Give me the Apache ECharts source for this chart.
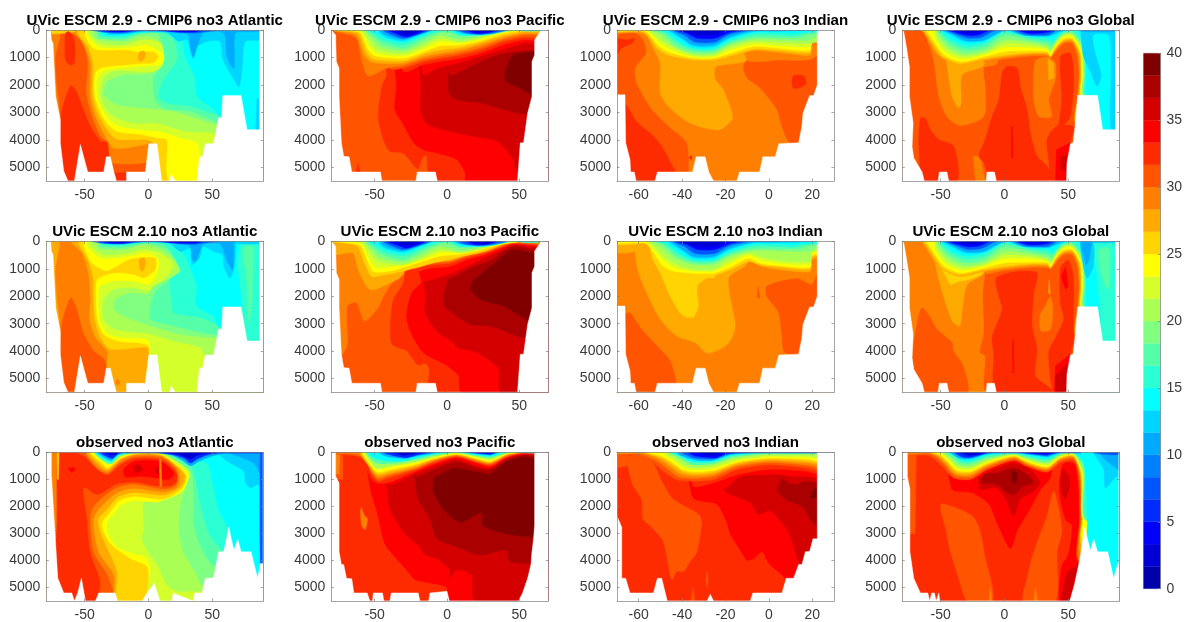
<!DOCTYPE html>
<html><head><meta charset="utf-8">
<script src="https://cdn.jsdelivr.net/npm/echarts@6/dist/echarts.min.js"></script>
<style>html,body{margin:0;padding:0;background:#fff}#c{width:1185px;height:622px}</style></head>
<body><div id="c"></div>
<script>
// jet(24): colour of each NO3 band, bottom to top of the colour bar (0..40, 24 equal bands)
const bandColors=['#0000AA','#0000D4','#0000FF','#002BFF','#0055FF','#0080FF','#00AAFF','#00D4FF','#00FFFF','#2BFFD4','#55FFAA','#80FF80','#AAFF55','#D4FF2B','#FFFF00','#FFD400','#FFAA00','#FF8000','#FF5500','#FF2B00','#FF0000','#D40000','#AA0000','#800000'];
const colorbarTicks=[0,5,10,15,20,25,30,35,40];
const depthTicks=[0,1000,2000,3000,4000,5000];
const latTicks=[-50,0,50];
const indianTicks=[-60,-40,-20,0,20];
// Each layer: [band, [lat,depth,lat,depth,...], closure] closure 1 = up to surface, 2 = down to bottom
const atlFloor=[-80,0,-76.5,0,-76,360,-74.7,480,-74,1150,-72.6,2420,-69,3270,-69,4110,-66.3,5140,-63,5500,-58,5500,-53.3,4170,-47.5,5170,-35,5170,-33,4620,-29.8,4620,-27,5170,-25,5500,-17.2,5500,-17.2,5170,-2.3,5170,0.3,4140,6.8,4140,10.4,5500,16.7,5500,17.8,5260,21,5500,38,5500,40,4620,42.3,4620,44.6,4140,51,4140,55,3200,57.4,3200,58.2,2390,72.6,2390,77.3,3630,87.2,3630,87.2,0,90,0];
const atlObsFloor=[-80,0,-76,0,-76,800,-72.8,3260,-71,4650,-66.3,5200,-60,5200,-58,5500,-55.4,5200,-52.5,4650,-49.3,5500,-41.5,5500,-39,5200,-26,5200,-24,5500,-5,5500,-1,5200,4.7,4840,9,5500,18.5,5500,19.3,5200,35,5500,36.3,5200,42,5200,44.6,4650,51,4650,55,3680,59,3680,63,2770,67,3620,70,3200,72.6,3680,80.4,3680,85.6,4650,87.7,4110,89.8,4110,89.8,0,90,0];
const pacFloor=[-80,0,-77,180,-76.5,1150,-74.6,1390,-74.6,2420,-73,4110,-71.4,4600,-67.7,4620,-65.8,5170,-46,5170,-45,5500,-21.5,5500,-20.6,5170,-8,5170,-6.7,5500,48.7,5500,50.6,4110,52.9,4110,55.7,3030,58.7,2420,58.7,1150,60.5,910,60.5,360,65,0,70,0];
const pacObsFloor=[-80,0,-77,0,-77,890,-74.6,1130,-74.6,3680,-73,4150,-71.4,4150,-69.5,4660,-65.8,4680,-64.4,5200,-55.2,5200,-53.3,5500,-51.5,5500,-51,5200,-44.6,5200,-43.6,5500,-39.5,5500,-38.6,5200,-19.9,5200,-18.7,5500,-12.7,5500,-11.8,5200,0,5140,1.6,5500,49.4,5500,52.2,5200,55.7,4660,58,4150,58.7,3680,59.8,3200,60.5,2710,60.5,40,64,0,70,0];
const indFloor=[-70,2360,-66.3,2360,-66,4110,-64,4720,-63.7,5170,-62,5170,-61.2,5500,-52.5,5500,-51.4,5170,-35.2,5170,-33.5,4620,-29.4,4620,-27.7,5170,-25.5,5500,-14.8,5500,-13.5,5170,-4.3,5170,-2.8,4620,2.9,4620,4.6,4140,13.7,4110,15.2,3510,15.7,3030,18.8,2390,20.6,2390,22.3,2000,22.3,0,30,0];
const indObsFloor=[-70,2350,-67.8,2770,-67.8,4660,-66,4660,-64,5200,-53.2,5200,-51.4,4660,-49.4,4660,-46.8,5500,-28.5,5500,-27,5250,-25.5,5500,-8.6,5500,-7.4,5200,6,5200,8,4660,11.4,4660,13.7,4150,15.2,4150,16.8,3680,18.8,3660,20.3,3200,22.3,3200,22.3,0,30,0];
const gloFloor=[-80,0,-79,20,-76.8,600,-74.4,1330,-74.4,2420,-71.5,3390,-72.3,4240,-71,4660,-64.5,5170,-62.7,5500,-52,5500,-51,5170,-45,5170,-43.6,5500,-14.4,5500,-13.6,5170,-7.8,5170,-6.3,5500,48.6,5500,49,4840,51.7,4140,53.8,4110,55.6,3390,57.4,2380,73,2380,77,3630,87,3630,87,0,90,0];
const gloObsFloor=[-80,0,-76,0,-76,890,-74,1370,-74,3680,-71,4660,-65.8,5200,-60,5200,-58.5,5500,-57,5200,-54.8,5200,-53.5,5500,-51.4,5200,-50.6,5500,51.2,5500,54.8,4900,58.2,4150,60,3680,62.7,2770,67.4,3620,70,3200,73,3680,81,3680,85.6,4660,88.8,4110,89.6,4110,89.6,0,90,0];

const atlDark=[[5,[-44,0,-35,80,-20,100,-5,20,10,30,25,100,35,110,45,60,55,0]],[3,[-38,0,-30,60,-20,70,-10,0,5,0,25,70,38,60,42,0]],[2,[-32,0,-25,40,-15,0,18,0,30,40,36,0]]];
const atl29=[
[19,[-80,0,90,0,90,5500,-80,5500]],
[18,[-80,0,-69,0,-73,1000,-72,2000,-70,3200,-80,3200]],
[18,[-62,0,-53,350,-47.5,1100,-48.5,2300,-44,3150,-37.5,3870,-32,4100,-31,4600,-28.5,4850,-1,4800,0.5,4250,0.5,5500,90,5500,90,0]],
[16,[-77,0,-55,0,-60,100,-75,150]],
[17,[-57,100,-50.5,550,-45.5,1200,-45.5,2400,-41.5,3150,-35,3750,-27,4300,-1,4150,0.5,4000,0.5,5500,90,5500,90,0,-57,0]],
[16,[-54.5,180,-47.5,600,-43.5,1200,-43.5,2400,-40,3000,-33.5,3550,-26,3950,-11.5,4000,-1,4000,7,4250,9,5500,90,5500,90,0,-54.5,0]],
[15,[-49,270,-42,700,-17,720,-8,800,4,780,8,970,4,1200,-4,1230,-14,1270,-37.5,1400,-42,1630,-42,2400,-38,2950,-32.5,3400,-24.5,3700,-6,3800,1.5,3870,7,3930,14.5,4000,17,5500,90,5500,90,0,-49,0]],
[14,[-47.5,180,-39,600,-17,630,-1,550,12,900,9.5,1270,-4,1330,-35,1500,-40,1800,-40,2400,-36,2900,-30,3300,-19,3550,-1,3650,9.5,3700,25,3930,38,4100,41,4600,51,5500,90,5500,90,0,-47.5,0]],
[13,[-45.5,180,-37.5,480,-19,550,-6,360,7,420,16,900,8,1500,-27,1500,-35,1750,-37.5,2400,-33.5,2850,-27,3150,-11.5,3400,7,3400,30,3700,51,3750,54,4000,90,4000,90,0,-45.5,0]],
[12,[-41.5,300,-35,360,-17,420,-6,240,5.5,300,20,970,5.5,1500,-4,1630,-19,1630,-32,1880,-35,2350,-24.5,2720,-1,2850,20,2970,41,3270,54,3450,90,3450,90,0,-41.5,0]],
[11,[-39,270,-19,340,-8,160,7,120,12,730,12,1210,4,1750,5.5,2550,12,2850,33,2970,54,3330,90,3330,90,0,-39,0]],
[10,[-37.5,220,-19,270,-8,120,12,120,20,360,22.5,1090,12,1800,8,2420,14.5,2660,33,2780,55,3090,90,3090,90,0,-37.5,0]],
[9,[-35,180,-19,190,-6,90,24,120,29,970,37,1750,38.5,2420,51,2880,56,3150,60,3150,60,5500,90,5500,90,0,-35,0]],
[8,[-32,160,-19,150,-6,60,14.5,90,24,420,30,340,35.5,1030,38.5,600,46,420,56,420,58.5,1090,67,1800,71,2080,73.5,1330,76,420,90,360,90,0,-32,0]],
[8,[85,2500,90,2500,90,3630,84,3630]],
[7,[-30,120,-19,120,-4,40,30,120,32,220,33,730,35,1000,38.5,550,43,110,59,110,61.5,970,67,1390,68,120,77,70,90,60,90,0,-30,0]],
...atlDark,
[20,[-65,120,-62,60,-58,360,-58,1210,-61,1270,-65,1090]],
[20,[-61,2030,-67.5,2900,-69,4100,-66,5500,-33,5500,-32,4100,-37.5,4050,-45.5,3500,-52,2780,-57,2180]],
[20,[-28,5200,-17,5200,-17,5500,-25,5500]],
[17,[-7,800,-3,780,-3,1000,-6,1150,-8,1050]]];
const atl210=[
[18,[-80,0,90,0,90,5500,-80,5500]],
[17,[-80,0,-70,0,-73,1000,-72,2000,-70,3200,-80,3200]],
[17,[-60,0,-52,430,-47,1150,-45.5,2000,-46,2840,-41.5,3500,-32,4050,-33,5500,90,5500,90,0]],
[19,[-61,2060,-67.5,2960,-69,4050,-66,5500,-32,5500,-33,4530,-35,4290,-43,3990,-51,3330,-57,2360]],
[16,[-54.5,130,-47.5,670,-43.5,1280,-43,2000,-42,2840,-37.5,3500,-30,3930,-1,3870,0.5,4150,0.5,5500,90,5500,90,0,-54.5,0]],
[15,[-50,250,-44,800,-32.5,1070,-16,670,-6,580,5.5,610,5.5,1030,-3.5,1340,-11.5,1220,-27,1160,-40,1400,-41,2000,-40,2840,-35,3390,-24.5,3630,0.5,3830,0.5,5500,90,5500,90,0,-50,0]],
[14,[-47.5,190,-37.5,610,-16,550,-1,410,8,670,7,1160,0.3,1580,-11.5,1460,-27,1460,-37.5,1640,-39,2240,-37.5,2960,-31,3390,-19.5,3510,0.3,3630,0.3,5500,90,5500,90,0,-47.5,0]],
[13,[-45.5,130,-35,490,-16.5,430,-3.5,290,9.5,430,20,860,12,1400,0.3,1820,-11.5,1700,-27,1760,-35,2120,-35,2840,-26,3210,-1,3350,20,3630,41,3870,44.5,4170,90,4170,90,0,-45.5,0]],
[12,[-39,250,-19.5,310,-3.5,130,9.5,290,27.5,1040,14.5,1400,4,1640,-1,1940,-14,1880,-26,2120,-27,2480,-19.5,2720,1.5,3080,25,3390,51,3510,90,3510,90,0,-39,0]],
[11,[-37.5,190,-19.5,220,-3.5,70,12,220,27.5,920,20,1280,7,1760,3,2120,1.5,2840,14.5,3020,51,3390,90,3390,90,0,-37.5,0]],
[10,[-35,130,-19.5,145,-3.5,50,13,130,22.5,800,25,1100,17,1400,18.5,2240,20,2600,41,2780,55,3080,60,3080,60,5500,90,5500,90,0,-35,0]],
[9,[-32,110,-19.5,100,-3.5,25,14.5,70,27.5,430,33,980,38,1640,38,2360,51,2720,56,3150,72,3150,72,1880,69.5,800,69.5,0,-32,0]],
[11,[74,250,82,200,82,900,81,2500,78,3000,77,1500]],
[8,[-31,70,-19.5,70,-3.5,10,16,50,25,370,33,250,34,850,40,600,43,190,51,370,58,490,59,910,64,1340,67.5,850,68.5,130,68.5,0,-31,0]],
[8,[68,0,87,0,87,100,70,100]],
[7,[-27,40,-10,30,0,10,29,70,33,220,34,650,37,750,43,100,56,100,62,750,66,1030,67,100,67,0,-27,0]],
...atlDark,
[17,[-7,650,-3,620,-3,950,-5,1100,-7,950]],
[18,[-26,5150,-24,5000,-22,5150,-24,5250]]];
const atlObs=[
[20,[-80,0,90,0,90,5500,-80,5500]],
[18,[-80,0,-72,0,-72,800,-73,3300,-80,3300]],
[16,[-71.5,0,-70,0,-70.5,1000,-71.5,1000]],
[19,[-57,0,-50.5,130,-40,630,-32,830,-22,460,-11,220,10,260,20,640,24,1000,17,1260,5,1250,-10,1120,-25,1190,-40,1580,-50.5,1310,-48,2470,-45.5,3680,-37.5,4780,-37.5,5500,90,5500,90,0]],
[18,[-48.5,130,-39,640,-32,770,-22,380,-11.5,160,9.5,180,21,580,23,950,21,1250,12,1370,-11.5,1190,-24.5,1310,-37.5,1740,-44,2100,-45.5,2470,-43,3680,-32,4540,-27,5200,-25.5,5500,90,5500,90,0,-48.5,0]],
[17,[-47.5,100,-37.5,580,-32,700,-22,300,-11.5,100,9.5,130,22.5,580,25,950,22.5,1310,12,1470,-11.5,1350,-24.5,1500,-35,1920,-41.5,2290,-43,2590,-39,3680,-27,4540,-24.5,5500,90,5500,90,0,-47.5,0]],
[16,[-46,70,-36,520,-32,640,-22,250,-11.5,70,9.5,100,24,580,29,890,25,1310,12,1590,-11.5,1500,-24.5,1680,-32,2100,-39,2470,-37.5,2950,-32,3560,-24.5,4410,-23,5500,90,5500,90,0,-46,0]],
[15,[-45,40,-35,460,-32,580,-22,220,-11.5,60,9.5,70,25,580,30,890,26,1370,12,1740,-11.5,1640,-23,1800,-30,2230,-36,2590,-35,2950,-28.5,3440,-14,3930,-1,4230,0.3,4780,0.3,5500,90,5500,90,0,-45,0]],
[14,[-43.5,10,-33.5,400,-32,460,-22,180,-11.5,40,9.5,50,26,580,31.5,890,27.5,1370,14.5,1860,-11.5,1800,-22,1980,-26,2230,-32,2590,-31,3080,-24.5,3500,-11.5,3750,-2.5,3870,1.5,4290,1.5,5500,90,5500,90,0,-43.5,0]],
[13,[-32,340,-22,130,-11.5,25,9.5,40,27.5,520,33,830,30,1370,7,1860,-3.5,1860,-3.5,2830,-5,3200,-1,3620,7,4170,14.5,4900,22.5,5140,34,5140,90,5140,90,0,-32,0]],
[12,[-22,85,-11.5,10,12,30,29,460,33,770,26,1740,24,2830,27.5,3680,38,4540,42,4900,90,4900,90,0,-22,0]],
[11,[12,10,33,700,35.5,1370,35.5,2590,40.7,3440,51,4170,90,4170,90,0,10,0]],
[10,[22.5,160,34,520,38,1250,41,1980,47,2950,54,3440,60,3680,90,3680,90,0,18,0]],
[9,[34,300,46,400,51,1250,55,2100,61.5,2710,66,3680,66,5500,90,5500,90,0,30,0]],
[8,[54,40,64,400,74.7,700,76,1130,80,1310,86.4,1190,87,1860,88,3000,90,3000,90,0,50,0]],
[7,[64,40,74.7,220,82.5,400,87.7,890,88,4110,90,4110,90,0,64,0]],
[5,[88,0,90,0,90,4110,87.7,4110,87.5,1500,87.5,300]],
[11,[-42,0,-35,330,-29,430,-22,120,-12,0]],
[9,[-41,0,-34,280,-29,350,-23,100,-14,0]],
[7,[-40,0,-33,230,-29,300,-24,90,-16,0]],
[4,[-38,0,-32,170,-28,220,-24,60,-19,0]],
[2,[-35,0,-30,100,-26,100,-23,0]],
[7,[5,0,18,100,26,280,33,500,40,320,50,140,60,0]],
[4,[8,0,20,100,28,220,33,400,38,250,46,100,55,0]],
[2,[12,0,25,100,33,250,38,120,48,0]],
[3,[-18,0,90,0,90,30,-18,30]],
[21,[-63,600,-59,550,-57,650,-60,760]],
[21,[-19.5,640,-11.5,340,9.5,340,20,770,16,1010,7,950,-6,890,-18,910]],
[22,[-12,500,-7,450,-4,650,-10,800]],
[22,[5,560,9,560,8,800,6,750]],
[18,[8.5,250,10,250,10.5,1270,9,1270]]];

const pacCold=[
[13,[-58,60,-53,420,-47.5,730,-30,850,-16.4,580,-5,300,9,420,23,280,34.4,100,46,25],1],
[12,[-57,30,-52,300,-46.4,600,-30,750,-16.4,460,-5,180,9,340,23,220,33,60,44,10],1],
[11,[-56,20,-51,240,-45,480,-30,670,-16.4,340,-7,120,0,60,9,240,23,160,32,25],1],
[10,[-55,10,-50,180,-44,390,-30,540,-16.4,240,-7,70,0,25,9,160,23,100,30,25],1],
[9,[-54,10,-48.7,120,-43,300,-30,440,-16.4,170,-9.5,25,0,0,4.4,25,9,170,23,190,32,140,40,0],1],
[9,[47,0,53,40,62,40,66,0]],
[8,[-47,50,-42,260,-30,390,-16.4,130,-10,0]],
[7,[-46,40,-41,210,-30,340,-16.4,100,-10.6,0]],
[7,[5,0,12,130,22,160,32,130,42,0]],
[5,[-44,0,-38,170,-30,300,-17,110,-12,0]],[5,[8,0,15,130,23,160,32,100,40,0]],
[3,[-41,0,-35,130,-28,250,-20,120,-15,0]],[3,[12,0,20,130,28,110,35,0]],
[2,[-37,0,-30,170,-23,130,-18,0]],[2,[16,0,23,90,29,70,32,0]]];
const pac29=[
[19,[-80,0,70,0,70,5500,-80,5500]],
[20,[-41.8,1630,-45,2060,-47.5,3150,-44,3990,-39.5,4420,-30,4500,-21.5,5020,-20,5050,-16.4,4600,-14,4600,-13,5170,-6.7,5500,70,5500,70,0,-41.8,0]],
[21,[-35,2060,-36,2900,-30,3450,-23,4110,-16.4,4360,-7,4480,6.7,4720,12.5,5200,13,5500,70,5500,70,0,-35,0]],
[22,[-18,2000,-18,3030,-13,3450,2,3690,18,3870,34.4,4050,46,4720,48.7,5200,70,5200,70,0,-18,0]],
[23,[1,1810,1.4,2300,6.7,2540,23,2660,39,2900,55,3090,70,3090,70,0,1,0]],
[24,[46,910,40,1570,41,1880,50.6,2120,58.7,2360,70,2360,70,900]],
[22,[2,1630,18,1270,34.4,910,45,790,58.7,730,70,730],1],
[21,[-16.4,1630,-7,1390,6.7,1210,20.5,990,39,700,53,480,70,480],1],
[20,[-30,1510,-16.4,1270,-5,1150,9,1030,23,850,39,540,53,360,70,390],1],
[19,[-39.5,1390,-30,1390,-16.4,1150,-5,1030,9,910,23,730,39,420,53,270,70,300],1],
[18,[-80,30,-72,120,-62.6,300,-59,1090,-54.5,1670,-41.8,1390,-30,1290,-16.4,1060,-5,940,9,820,23,640,39,340,53,180,70,180],1],
[17,[-80,10,-72,60,-62.6,180,-57.5,900,-52,1170,-41.8,1230,-30,1210,-16.4,970,-5,850,9,730,23,540,39,270,53,120,70,120],1],
[16,[-80,5,-72,40,-61.4,120,-56,790,-51,1060,-30,1130,-16.4,880,-5,730,9,640,23,460,39,200,53,60,63,60],1],
[15,[-76,20,-60,90,-55,670,-50,940,-30,1030,-16.4,790,-5,580,9,540,23,390,39,120,50,25],1],
[14,[-65,20,-59,85,-54.5,540,-48.7,850,-30,940,-16.4,700,-5,420,9,480,23,340,36.7,120,48,25],1],
...pacCold,
[20,[-63,5170,-61.5,4850,-60,5170]]];
const pac210=[
[19,[-80,0,70,0,70,5500,-80,5500]],
[18,[-80,0,-80,4400,-73,4170,-69,3750,-69,2360,-62.6,2240,-57,2900,-47.6,2420,-44,2000,-37,1460,-25.6,1040,-25.6,0]],
[20,[-37,2120,-39,2960,-38,3750,-28,3990,-20,4510,-15.2,4430,-12.2,4650,-11.8,5500,70,5500,70,0,-25,0,-30,1500]],
[21,[-17.5,1460,-24.5,1880,-28,2720,-25,3330,-16.4,4050,0,4530,7.9,4900,10,5500,70,5500,70,0,-17.5,0]],
[22,[-14.8,2120,-15.2,2600,-7,3270,4.4,3690,6.7,3870,20.5,4050,35.6,4650,37,5500,70,5500,70,0,-14.8,0]],
[23,[0.9,1400,-2,1880,-2,2360,6.7,2720,16,3030,30,3090,48.3,3450,53.6,3510,70,3510,70,0,0.9,0]],
[24,[18,1400,16.4,1760,23,2120,39,2360,57.5,2900,70,2900,70,0,18,0]],
[23,[16,1400,30,900,41,430,46,290,53,340,70,490],1],
[22,[0.9,1340,16,970,30,670,39,340,46,170,53,220,70,370],1],
[21,[-17.5,1420,0,1220,16,850,27.5,550,39,290,46,130,70,250],1],
[20,[-29,1160,-11.8,980,2,920,13.6,670,27.5,460,39,220,46,100,70,190],1],
[19,[-25.6,980,-11.8,860,2,800,13.6,590,27.5,410,39,170,46,70,70,130],1],
[17,[-80,490,-65,430,-61.4,1040,-53.3,1760,-41.8,1580,-33,1350,-25.6,900,-11.8,780,2,720,13.6,520,27.5,360,39,130,46,40,63,80],1],
[16,[-80,30,-72,60,-62,180,-57,800,-52,1280,-44,1230,-30,1080,-17,900,-5,730,9,560,23,400,39,100,50,20],1],
[15,[-76,20,-60,150,-55,700,-51,1100,-40,1090,-30,950,-16,720,-5,540,9,470,23,320,39,70,50,15],1],
[14,[-65,20,-59,100,-54.5,560,-48.7,950,-30,850,-16,650,-5,420,9,400,23,290,37,100,48,20],1],
...pacCold];
const pacObs=[
[20,[-80,0,70,0,70,5500,-80,5500]],
[19,[-77,100,-72,80,-72,1000,-77,1000]],
[18,[-77,50,-74,50,-74.6,800,-77,800]],
[18,[-59.4,2040,-57,2350,-55,2470,-56.6,2860,-59,2710,-59.8,2350]],
[21,[-53.3,1250,-48.3,2230,-43,3380,-35,3930,-25,4540,-22,4720,-5,4900,0,5020,0,5500,70,5500,70,0,-53,0]],
[20,[23,5500,26,5200,29,5500]],
[22,[-41,1560,-39.5,2100,-30,2950,-20,3440,-15,3800,-7,3930,2,4350,2,4660,6.7,4350,17,4540,19.4,5500,70,5500,70,0,-41,0]],
[23,[-21.5,1250,-20,1740,-11.8,2470,-7,3200,6.7,3500,23,3800,41,3620,43.6,4050,58.7,4110,70,4110,70,0,-21.5,0]],
[24,[-9,890,-9.5,1430,-2.5,2100,9,2590,24,2230,24.7,2710,41.3,3020,60.5,3140,70,3140,70,0,-9,0]],
[23,[-9,890,4.4,580,20.5,710,29.8,770,41.3,340,53,160,70,280],1],
[22,[-21.5,890,-9.5,640,6.7,340,20.5,580,29.8,640,41.3,260,53,100,70,160],1],
[21,[-41,1190,-21.5,770,-9.5,520,6.7,260,20.5,500,29.8,580,41.3,220,53,70,70,130],1],
[20,[-72,150,-62.6,180,-57,460,-52,1010,-47.6,1150,-41,1130,-21.5,700,-9.5,440,6.7,190,20.5,400,29.8,520,41.3,190,53,40,70,100],1],
[19,[-76,80,-63,130,-55.6,340,-52,830,-47.6,1070,-41,950,-21.5,640,-9.5,380,6.7,160,20.5,360,29.8,470,41.3,160,53,15,70,70],1],
[18,[-76,40,-63,70,-56,240,-52.5,720,-47.6,980,-41,870,-21.5,590,-9.5,330,6.7,130,20.5,330,29.8,430,41.3,130,53,10,62,40],1],
[17,[-60,70,-53.5,560,-48,880,-41,800,-21.5,540,-9.5,290,6.7,100,20.5,290,29.8,400,41.3,100,52,0],1],
[16,[-59,60,-54,460,-48,800,-41,730,-21.5,480,-9.5,260,6.7,80,20.5,260,29.8,370,41.3,80,51,0],1],
[15,[-58,50,-54,380,-48.5,720,-41,660,-21.5,430,-9.5,230,6.7,60,20.5,230,29.8,330,41.3,60,50,0],1],
[13,[-57,40,-54,290,-49,600,-41,540,-21.5,360,-9.5,180,6.7,30,20.5,180,29.8,270,41.3,40,48,0],1],
[11,[-56,30,-52,290,-47,430,-35,400,-21.5,280,-9.5,120,4,15,7,15,20.5,130,29.8,200,41,15,46,0],1],
[9,[-55,20,-50,220,-40,330,-30,310,-21,210,-9.5,70,2,0,10,0,20.5,90,29.8,150,37,40,42,0],1],
[8,[48,0,55,30,62,30,65,0]],
[7,[-47,0,-42,150,-30,230,-20,130,-8,30,0,0]],[7,[11,0,20.5,60,29.8,110,36,0]],
[4,[-44,0,-35,150,-28,200,-20,90,-10,0]],[4,[13,0,22,40,30,80,35,0]],
[2,[-38,0,-30,120,-22,50,-15,0]],[2,[16,0,28,40,33,0]],
[3,[66,0,68.5,0,67,120]]];

const indCold=[
[12,[-54,20,-50,170,-43,640,-34.8,850,-25.5,850,-17.8,540,-7,340,5.2,360,19,360,22.3,170],1],
[11,[-53,10,-49,120,-42.4,560,-34.8,780,-25.5,780,-17.8,480,-7,270,5.2,280,14.5,270,17.5,180,22.3,120],1],
[10,[-52,10,-48,90,-41.7,480,-34.8,720,-25.5,720,-17.8,420,-7,180,5.2,190,11.4,220,16,120,22.3,85],1],
[9,[-51,10,-47,70,-41,420,-34.8,660,-25.5,660,-17.8,350,-7,100,3.7,100,11.4,120,22.3,25],1],
[8,[-46,40,-40,340,-34.8,600,-25.5,600,-17.8,290,-7,60,3,60,22,0],1],
[7,[-45,20,-40,290,-34.8,540,-25.5,540,-17.8,240,-7,30,10,20,22,0],1],
[5,[-44,0,-39,180,-34,440,-25,440,-18,150,-8,10,5,0]],
[3,[-43,0,-38,110,-33,300,-25,300,-18,80,-12,0]],
[2,[-40,0,-33,180,-25,180,-20,30,-16,0]]];
const ind29=[
[18,[-70,0,30,0,30,5500,-70,5500]],
[19,[-70,240,-61.7,120,-58,360,-56.8,850,-61.7,1390,-61,1940,-54,2900,-45.5,3570,-38,4110,-37,5170,-37,5500,-70,5500]],
[20,[-70,340,-65.5,360,-62,300,-62.8,460,-68,670,-70,910]],
[20,[-66,2720,-61,3330,-54,3810,-49.4,4240,-44,5020,-43,5170,-43,5500,-70,5500,-70,2720]],
[20,[-37,4650,-35.5,4550,-35.5,4750]],
[19,[-10,1090,-11.7,1390,-10,1750,-4,2120,3.7,2900,6,3510,9.8,4110,22.3,4110,22.3,970,19,1090]],
[20,[11.4,1670,16,1670,17.2,1940,15.2,2080,11.4,2120,10.6,1880]],
[17,[-55,300,-51.7,900,-50,1210,-50,2300,-46.3,2780,-37.8,3330,-29.4,3570,-22.5,3630,-17,3270,-17,3030,-21,2180,-25,1750,-24.3,1330,-10,1090,-10,0,-55,0]],
[18,[-10,1090,5.2,1090,19,1060,19.8,600,30,660],1],
[17,[-70,100,-62,80,-58,120,-55.5,300,-52.5,730,-47,990,-34.8,1150,-25.5,1150,-17.8,990,-7,750,5.2,820,19,910,19.8,480,30,420],1],
[16,[-70,60,-60,40,-57,100,-55,270,-51.4,670,-46.3,910,-34.8,1090,-25.5,1090,-17.8,940,-7,700,5.2,750,19,820,19.8,460,30,390],1],
[15,[-70,30,-58,20,-56.5,60,-54.3,240,-50.8,580,-45.5,820,-34.8,1020,-25.5,1020,-17.8,850,-7,600,5.2,670,19,730,19.8,420,30,340],1],
[14,[-56,40,-53.5,210,-50,480,-44.8,730,-34.8,970,-25.5,970,-17.8,730,-7,510,5.2,580,19,600,20.6,340,30,300],1],
[13,[-55,30,-52,230,-49.4,390,-44,630,-34.8,910,-25.5,910,-17.8,630,-7,420,5.2,460,19,480,30,220],1],
...indCold];
const ind210=[
[18,[-70,0,30,0,30,5500,-70,5500]],
[17,[-61.7,370,-60.2,1100,-56.3,1880,-50,2840,-42.5,3450,-34,3690,-28.6,4070,-22.5,3930,-17.8,3630,-15.5,3080,-18.6,1340,-10,820,-10,0,-62,0]],
[16,[-54,550,-50,1160,-45.5,2000,-41,2600,-38,2760,-34.8,2760,-32.5,2360,-33,1640,-28.6,1340,-25,1300,-25,0,-54,0]],
[19,[-1,1640,-1.2,1980,4.5,2600,6,3450,7.5,4070,22.3,4070,22.3,1220,19.8,1580,13.7,1370,5.2,1460]],
[19,[-5,1660,-4,2060,-5.5,2060]],
[19,[-66,2660,-64,2600,-58.6,3210,-49.4,3990,-45.5,4350,-42.8,5100,-42.8,5500,-70,5500]],
[17,[-70,410,-61.7,370,-58,120,-55,100,-50,300,-25,500,-10,650,-3.2,920,5.2,1040,19,1100,19.8,670,30,430],1],
[16,[-70,130,-62,110,-57,60,-54.8,250,-50,860,-45.5,1160,-34.8,1280,-25.5,1250,-17.8,1040,-9.4,740,-4,860,5.2,940,19,1010,19.8,580,30,370],1],
[15,[-70,60,-60,50,-56,100,-53,430,-49.4,860,-44.8,1070,-34.8,1160,-25.5,1160,-17.8,940,-9.4,620,-4,800,5.2,890,19,940,19.8,500,30,340],1],
[14,[-56,50,-52,400,-48,720,-44,950,-34.8,1090,-25.5,1090,-17.8,800,-9.4,500,-4,680,5.2,800,19,830,19.8,430,30,300],1],
[13,[-55,30,-51,330,-47,640,-43,830,-34.8,1020,-25.5,1010,-17.8,680,-9.4,420,-4,560,5.2,700,19,720,19.8,360,30,260],1],
...indCold];
const indObs=[
[20,[-70,0,30,0,30,5500,-70,5500]],
[19,[-70,100,-65,100,-65,500,-70,580]],
[19,[-65,160,-62.5,1250,-58.6,1740,-58,2470,-54,2770,-48.6,3320,-44.8,4720,-42.5,4410,-39.4,4410,-36.3,4050,-33.2,3680,-31,2590,-32.5,2290,-44,1740,-49.4,1070,-54,340]],
[19,[-36,5500,-35,5020,-34,5500]],
[19,[-29,4700,-28.5,4400,-28,4700,-28.5,5000]],
[21,[-35,1680,-24,1920,-19.4,2590,-17.8,3020,-13.2,3620,-10,4000,-7,3930,-3.2,3680,0,4110,5.2,4470,8,4660,30,4660,30,0,-35,0]],
[22,[-21,1370,-8.6,1860,-4.8,2290,0.6,2160,9,2950,13.7,4050,15.2,4150,30,4150,30,0,-21,0]],
[23,[3.7,1370,7.5,1740,15.2,2000,19,2470,22.3,2770,30,2770,30,0,3.7,0]],
[24,[19,1680,20.6,1370,22.3,1300,22.3,1680]],
[22,[3.7,1370,6,950,9,1130,13,1190,16,1070,30,1070],1],
[21,[-21,1370,-13.2,890,-1,830,6,830,11.4,890,17.5,890,30,1010],1],
[20,[-35,1250,-25.5,1130,-14.8,830,-1,640,8.3,640,17.5,710,30,890],1],
[19,[-70,100,-64,110,-54,340,-48.6,700,-42.4,1010,-34.8,1070,-25.5,1010,-14.8,640,-1,460,8.3,500,17.5,580,30,770],1],
[18,[-70,60,-60,60,-52.5,280,-47,590,-42,890,-34.8,970,-25.5,890,-14.8,540,-1,380,8.3,410,17.5,480,30,650],1],
[17,[-70,30,-58,30,-51,230,-46,500,-41,780,-34.8,870,-25.5,810,-14.8,470,-1,320,8.3,340,17.5,400,30,540],1],
[16,[-57,20,-50,190,-45,430,-40,700,-34.8,790,-25.5,730,-14.8,410,-1,260,8.3,280,17.5,320,30,450],1],
[15,[-56,10,-49,150,-44.5,370,-40,630,-34.8,720,-25.5,660,-14.8,360,-1,210,8.3,220,17.5,250,30,380],1],
[14,[-48,100,-44,300,-39.5,560,-34.8,650,-25.5,590,-14.8,310,-1,160,8.3,170,17.5,180,30,320],1],
[13,[-47,60,-43,240,-39,480,-34.8,580,-25.5,520,-15.5,260,-1,120,8.3,120,17.5,120,30,270],1],
[11,[-46,30,-42,180,-38,370,-34.8,470,-25.5,420,-16.5,190,-3,60,10,60,30,40],1],
[9,[-45,10,-41,130,-37,300,-33,370,-25.5,340,-17.5,130,-6,30,10,20,30,10],1],
[7,[-42,60,-37,220,-33,300,-25.5,290,-18,90,-8,10],1],
[5,[-40,30,-36,170,-32,230,-25,240,-19,70,-12,0],1],
[3,[-37,0,-34,130,-30,180,-24,190,-20,50,-15,0]],
[2,[-33,0,-29,110,-25,120,-21,0]],
[2,[-20,0,30,0,30,25,-20,25]]];

const gloCaps=[
[18,[-16,1150,0,1050,20,950,34,950,36,1010,40,800,46,500,53,480,57,900,58.5,1600,57.5,2380,56,3300,90,3300],1],
[17,[-80,0,-65,20,-59,420,-51,950,-35,1280,-16,1100,0,980,20,880,34,890,36,990,40,720,46,430,53,400,58,850,59,1600,58,2380,56,3400,90,3400],1],
[16,[-80,0,-64,10,-57,420,-49,950,-35,1220,-16,1040,0,920,20,830,34,840,36,960,40,670,46,380,53,350,59,850,60,1600,59,2380,56.5,3500,90,3500],1],
[15,[-80,0,-62,10,-55.4,420,-47.5,900,-34.5,1150,-16,970,0,790,20,760,34,780,36,930,40,610,46,320,53,290,59.5,800,60.5,1600,60,2380,57,3650,90,3650],1],
[14,[-54,320,-46,820,-34,1050,-16,900,0,640,20,640,34,720,36,860,40,550,46,260,53,220,60,750,61,1600,60.5,2380,90,2380],1],
[13,[-53,250,-45,720,-33,960,-16,840,0,500,20,540,34,660,36,800,40,490,46,200,53,170,60.5,700,62,1600,61.5,2380,90,2380],1],
[12,[-52,180,-44,620,-32,870,-16,760,0,360,20,450,34,590,36,720,40,430,46,160,53,130,61,650,62.5,1600,62,2380,90,2380],1],
[11,[-51,130,-43,520,-31,760,-16,660,0,200,20,370,34,500,37,600,41,330,46,110,53,80,61.5,600,63,1600,63,2380,90,2380],1],
[10,[-50,90,-42,430,-31,640,-16,540,0,90,20,300,34,400,38,480,42,250,46,70,53,40,62,550,63.5,1600,63.5,2380,90,2380],1],
[9,[-49,50,-41,340,-30,530,-16,430,-4,120,0,30,20,240,34,290,38,360,44,120,50,30,57,30,62.5,500,64,1600,64,2380,64,5500,90,5500],1]];
const gloDark=[
[8,[-49,0,-43,150,-36,330,-30,430,-16,390,-4,100,0,10,4,0,20,210,34,240,40,140,47,0]],
[7,[-48,0,-42,130,-35,300,-29,400,-16,360,-6,120,0,20,4,0]],[7,[5,0,15,190,25,200,35,210,42,60,47,0]],
[5,[-46,0,-40,120,-33,240,-28,300,-18,260,-9,50,-5,0]],[5,[8,0,17,170,25,190,34,170,40,0]],
[3,[-43,0,-36,120,-28,200,-20,170,-12,20,-8,0]],[3,[11,0,19,120,27,120,34,70,38,0]],
[2,[-38,0,-30,110,-22,90,-14,0]],[2,[15,0,22,60,28,50,33,0]]];
const glo29=[
[19,[-80,0,90,0,90,5500,-80,5500]],
[18,[-62,120,-55.4,1090,-51.4,2420,-45,3150,-34.5,3480,-16.2,3150,-15,2060,-16.2,1390,-5.7,1210,-5.7,0,-62,0]],
[17,[-56,100,-50,600,-46,1000,-41,2420,-35.8,2840,-34,2660,-33,1630,-16,1270,-16,0,-56,0]],
[18,[24,1150,23,2540,27,3150,37,3150,34.7,2540,40,1800,40,1210,36,1030,32,970]],
[17,[34,1030,34.7,1820,39,1750,38.6,1210]],
[18,[-24.5,4600,-19,4600,-15,5500,-22.7,5500]],
[20,[2,1330,10,1390,12.5,2060,17.8,2900,20.4,3750,25.6,4600,33.4,4960,38.6,5500,-6.3,5500,-13.6,5170,-16,4840,-20,4600,-15,3990,-9.7,3150,-4.4,2540,-1.8,1570]],
[21,[5.4,3510,6.2,3510,6.6,4660,5.6,4660]],
[20,[-65.8,3210,-67,4240,-63,5500,-37,5500,-39.7,4240,-51.4,3990,-58,3630,-62,3210]],
[20,[43.9,970,51.7,850,54.3,1690,51.7,3150,46.5,3510,49,4110,41.3,4110,45,2540]],
[20,[33.4,3990,41,3510,54,3510,51.7,4110,49,5500,37.3,5500,34.7,4720]],
[21,[40.7,4360,51.7,4110,48.6,5500,40,5500]],
[22,[43.9,4600,49,4600,48.6,5140,44.4,5080]],
...gloCaps,
[8,[60,120,62,970,67.4,1510,72.6,2060,75.7,1630,70.5,730,69.5,180,81.7,180,83.5,1090,83.5,3630,90,3630,90,0,60,0]],
[7,[58,0,88,0,87,60,70,60,62,60]],
...gloDark];
const glo210=[
[18,[-80,0,90,0,90,5500,-80,5500]],
[17,[-55.4,430,-51.4,1400,-41,2900,-35,3080,-33,2480,-29.2,1580,-16.2,1160,-16,0,-55.4,0]],
[16,[-52,800,-48,1100,-42,1580,-38,1500,-25,1350,-16,1100,-16,0,-52,0]],
[19,[-64.5,2420,-68.4,2960,-72,4170,-71,4650,-62.4,5500,-29,5500,-32.4,4530,-40,4000,-41,3690,-52.7,3210,-59,2720]],
[19,[-15,1160,-16.7,1880,-16,3330,-19,4050,-15,4170,-13.6,5500,60,5500,60,0,-15,0]],
[18,[36,2020,38,2480,36,3210,28.7,3270,27.7,2720,32,2360]],
[17,[35,1400,36,1900,34.5,1900]],
[20,[25.6,1160,23,1880,21.7,3090,25.6,3930,24.3,4900,38.6,5500,-6.3,5500,-8.4,4050,-9.7,3510,-1.8,2480,-4.4,2000,-6.3,1340,10,1100]],
[20,[43.9,980,50,680,54,1280,54,3090,54,3690,51.7,4110,49,5500,38.6,5500,34.7,4050,40,3510,46.5,2840,43.9,2240]],
[21,[44.4,1280,47.8,920,50,1640,47.8,1760]],
[21,[40,4530,51.7,4110,49,5500,39.2,5500]],
[22,[40,4900,49,4470,48.6,5500,40,5500]],
[21,[6.4,3600,7.2,3600,7.4,4800,6.6,4800]],
...gloCaps,
[10,[70,70,72.6,1280,75.2,2600,77,3570,87,3570,87,70]],
[11,[73.9,310,81.7,250,82.5,1280,81,1760,76.5,1280]],
[8,[60,70,62,920,64.8,1340,69.5,920,69.5,70]],
[7,[60,0,69,0,68,150,66,700,64,850,62,500]],
[8,[70,0,87,0,87,60,70,60]],
...gloDark];
const gloObs=[
[20,[-80,0,90,0,90,5500,-80,5500]],
[19,[-80,0,-69,0,-70,3000,-80,3000]],
[19,[-49.6,1920,-46,2830,-42.3,3680,-35.8,4660,-29,5500,-9.7,5500,-9.7,4900,-15,3930,-18.8,2950,-25.3,2350]],
[19,[38.6,1430,33.4,2350,23,3680,17.8,4660,15,5500,40,5500,41.3,3680,45,2950,42.6,2100]],
[18,[-12,5500,-11,5000,-9.7,5500]],
[18,[23,5500,24.3,5000,26,5500]],
[21,[-41,1370,-25,1500,-12,1920,-5,2700,4.7,3560,10,2900,20,2100,28,1400,36,920,36,0,-41,0]],
[21,[44,700,47,400,55,450,58,1500,58.5,3700,58,4150,51,5500,43,5500,45,4200,50,3800,53,2700,48,2500,43,1500]],
[22,[43.9,1010,46.5,640,50.4,890,51,1250,47.8,1740,45,1500]],
[22,[49,4410,58,4170,51,5500,43.9,5500]],
[22,[-20,950,-18.8,1370,-7,1310,-0.5,1620,7.3,2350,12.5,1740,23,1430,28,1130,20,640,7.3,400,-8.4,640]],
[23,[-16,830,-17.5,1130,-5.7,1190,2,1500,7.8,1560,15,1250,23,1130,17.8,830,7.3,580,-5.7,770]],
[24,[6,700,10,770,9.4,1130,7.8,1190,6,1010]],
[19,[-80,100,-72,110,-60,110,-54,280,-47.5,580,-39.7,950,-26.6,1010,-13.6,640,7.3,300,17.8,520,33.4,740,43.9,380,54.3,300,58.2,890,59,2470,58,4050,90,4050],1],
[18,[-76,90,-60,40,-53,180,-46.5,480,-39,860,-26.6,900,-13.6,560,7.3,240,17.8,460,33.4,660,43.9,300,54.3,220,59,870,60,2470,59,4000,90,4000],1],
[17,[-58,20,-52,150,-46,420,-38.5,790,-26.6,830,-13.6,500,7.3,190,17.8,420,33.4,610,43.9,250,54.3,180,59.5,850,60.5,2470,60,3700,90,3700],1],
[16,[-57,10,-51,120,-45,370,-38,720,-26.6,760,-13.6,450,7.3,160,17.8,380,33.4,570,43.9,210,54.3,140,60,830,61,2470,60.5,3400,90,3400],1],
[15,[-56,10,-50,90,-44.5,330,-37.5,660,-26.6,700,-13.6,400,7.3,130,17.8,340,33.4,530,43.9,180,54.3,110,60.5,800,61.5,2470,61,3200,90,3200],1],
[14,[-49,60,-44,280,-37,600,-26.6,640,-13.6,350,7.3,100,17.8,300,33.4,480,43.9,150,54,80,61,780,62,2470,90,2470],1],
[13,[-48,40,-43,240,-36.5,530,-26.6,570,-13.6,300,7.3,80,17.8,260,33.4,430,43.9,120,54,60,61.5,760,62.5,2470,90,2470],1],
[12,[-47,30,-42,200,-36,470,-26.6,500,-13.6,250,7,60,17.8,220,33.4,380,43.9,90,54,40,62,700,63,2470,90,2470],1],
[11,[-46,20,-41,170,-35,400,-26.6,420,-13.6,200,7,40,17.8,180,33.4,330,43.9,60,54,20,62.5,600,63.5,2470,90,2470],1],
[10,[-45,10,-40,130,-34,340,-26.6,360,-13.6,150,7,20,17.8,140,33.4,280,44,30,54,10,63,500,64,2470,90,2470],1],
[9,[-44,0,-39,100,-33,290,-26.6,300,-13.6,100,7,10,17.8,100,33.4,230,45,10,55,10,62,400,64,1200,65,2470,65,5500,90,5500],1],
[8,[72.6,220,77.8,640,79,1310,88,890,90,1000,90,0,70,0]],
[7,[77.8,220,89,640,90,700,90,0,75,0]],
[5,[70,0,90,0,90,60,85,100,70,30]],
[7,[-42,0,-37,180,-33,240,-26.6,240,-13.6,60,-8,0]],[7,[10,0,17.8,70,33.4,170,44,0]],
[4,[-39,0,-33,170,-26,180,-15,40,-12,0]],[4,[12,0,20,50,33,120,42,0]],
[2,[-35,0,-28,120,-20,80,-15,0]],[2,[15,0,25,40,33,70,38,0]],
[3,[-20,0,60,0,60,25,-20,25]]];

const panels=[
['UVic ESCM 2.9 - CMIP6 no3 Atlantic',atl29,atlFloor,-80,90,latTicks],
['UVic ESCM 2.9 - CMIP6 no3 Pacific',pac29,pacFloor,-80,70,latTicks],
['UVic ESCM 2.9 - CMIP6 no3 Indian',ind29,indFloor,-70,30,indianTicks],
['UVic ESCM 2.9 - CMIP6 no3 Global',glo29,gloFloor,-80,90,latTicks],
['UVic ESCM 2.10 no3 Atlantic',atl210,atlFloor,-80,90,latTicks],
['UVic ESCM 2.10 no3 Pacific',pac210,pacFloor,-80,70,latTicks],
['UVic ESCM 2.10 no3 Indian',ind210,indFloor,-70,30,indianTicks],
['UVic ESCM 2.10 no3 Global',glo210,gloFloor,-80,90,latTicks],
['observed no3 Atlantic',atlObs,atlObsFloor,-80,90,latTicks],
['observed no3 Pacific',pacObs,pacObsFloor,-80,70,latTicks],
['observed no3 Indian',indObs,indObsFloor,-70,30,indianTicks],
['observed no3 Global',gloObs,gloObsFloor,-80,90,latTicks]];

const lefts=[46.3,331.3,617,902.3], tops=[30,241.3,452.3], W=217, H=151, DEPTH=5500;
const FONT='"Liberation Sans",Arial,sans-serif', FRAME='#808080', TXT='#3a3a3a';
const line={lineStyle:{color:FRAME,width:0.7}};
const plain=v=>String(v);
const grid=[],xAxis=[],yAxis=[],series=[],title=[];
panels.forEach((p,k)=>{
  const [name,layers,floor,xmin,xmax,ticks]=p;
  const r=Math.floor(k/4),c=k%4,gi=grid.length;
  grid.push({left:lefts[c],top:tops[r],width:W,height:H,containLabel:false});
  title.push({text:name,left:lefts[c]+W/2,top:tops[r]-16.5,padding:0,textAlign:'center',textStyle:{fontFamily:FONT,fontWeight:'bold',fontSize:15.1,color:'#000'}});
  const ax=2*k;
  [['bottom',true],['top',false]].forEach(([pos,lab])=>xAxis.push({type:'value',gridIndex:gi,position:pos,min:xmin,max:xmax,z:5,splitLine:{show:false},
    axisLine:{show:true,onZero:false,...line},
    axisTick:{show:true,inside:true,length:2.5,customValues:ticks,...line},
    axisLabel:{show:lab,customValues:ticks,formatter:plain,margin:7,fontFamily:FONT,fontSize:14,color:TXT}}));
  [['left',true],['right',false]].forEach(([pos,lab])=>yAxis.push({type:'value',gridIndex:gi,position:pos,inverse:true,min:0,max:DEPTH,z:5,splitLine:{show:false},
    axisLine:{show:true,onZero:false,...line},
    axisTick:{show:true,inside:true,length:2.5,customValues:depthTicks,...line},
    axisLabel:{show:lab,customValues:depthTicks,formatter:plain,margin:6,fontFamily:FONT,fontSize:14,color:TXT}}));
  const all=layers.concat([[0,floor,2]]);
  series.push({type:'custom',xAxisIndex:ax,yAxisIndex:ax,clip:true,silent:true,animation:false,z:2,
    data:all.map((l,i)=>[i]),encode:{x:0},
    renderItem:(params,api)=>{
      const l=all[api.value(0)],v=l[1],pts=[];
      for(let i=0;i<v.length;i+=2)pts.push(api.coord([v[i],v[i+1]]));
      if(l[2]===1){pts.push(api.coord([v[v.length-2],0]),api.coord([v[0],0]));}
      if(l[2]===2){pts.push(api.coord([v[v.length-2],DEPTH]),api.coord([v[0],DEPTH]));
        if(v[1]>0){pts.push(api.coord([v[0],0]));pts.push(api.coord([v[0],v[1]]));}}
      const col=l[0]?bandColors[l[0]-1]:'#fff';
      const soft=l[0]&&v.length>=10;
      return {type:'polygon',shape:{points:pts,smooth:soft?0.25:0},style:{fill:col,stroke:col,lineWidth:0.4}};
    }});
});
// Colour bar
const cbGrid=grid.length;
grid.push({left:1143.5,top:53.3,width:20.5,height:535.4});
xAxis.push({type:'value',gridIndex:cbGrid,min:0,max:1,show:false});
yAxis.push({type:'value',gridIndex:cbGrid,position:'right',min:0,max:40,interval:5,z:5,splitLine:{show:false},
  axisLine:{show:true,onZero:false,...line},
  axisTick:{show:true,inside:true,length:2.5,customValues:colorbarTicks,...line},
  axisLabel:{customValues:colorbarTicks,formatter:plain,margin:6,fontFamily:FONT,fontSize:14,color:TXT}});
series.push({type:'custom',xAxisIndex:xAxis.length-1,yAxisIndex:yAxis.length-1,silent:true,animation:false,
  data:bandColors.map((c,i)=>[i]),encode:{y:0},
  renderItem:(params,api)=>{
    const i=api.value(0),a=api.coord([0,(i+1)*40/bandColors.length]),b=api.coord([1,i*40/bandColors.length]);
    return {type:'rect',shape:{x:a[0],y:a[1],width:b[0]-a[0],height:b[1]-a[1]},style:{fill:bandColors[i],stroke:bandColors[i],lineWidth:0.3}};
  }});
const chart=echarts.init(document.getElementById('c'),null,{renderer:'canvas',width:1185,height:622});
chart.setOption({animation:false,backgroundColor:'#fff',title,grid,xAxis,yAxis,series});
</script></body></html>
